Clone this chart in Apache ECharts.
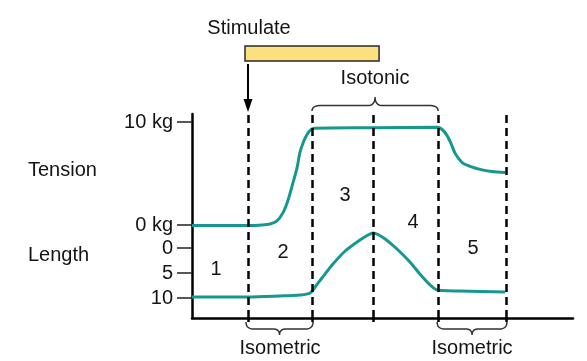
<!DOCTYPE html>
<html>
<head>
<meta charset="utf-8">
<script src="https://cdn.jsdelivr.net/npm/echarts@6/dist/echarts.min.js"></script>
<style>
html,body{margin:0;padding:0;background:#fff;}
#c{width:587px;height:361px;}
</style>
</head>
<body>
<div id="c"></div>
<script>
// ---- data (time in arbitrary units 0..100) ----
const phaseBounds = [14.7, 31.5, 47.5, 64.6, 82.4];
const phaseNames = ['1', '2', '3', '4', '5'];
const tensionTime = [0, 14.7, 18.4, 20.5, 22.3, 23.9, 25.2, 26.5, 27.6, 28.3, 29.4, 30.2, 31.0, 32.0, 47.5, 64.3, 65.6, 66.9, 68.0, 69.0, 70.1, 71.1, 73.0, 75.6, 78.7, 82.2];
const tensionKg   = [-0.05, -0.05, 0.0, 0.1, 0.4, 1.2, 2.4, 4.1, 5.6, 7.0, 8.2, 8.8, 9.2, 9.4, 9.45, 9.5, 9.3, 8.7, 7.9, 7.0, 6.4, 6.0, 5.7, 5.4, 5.2, 5.1];
const lengthTime  = [0, 14.7, 23.1, 28.3, 31.0, 32.3, 34.1, 37.0, 40.2, 44.1, 46.2, 47.5, 48.8, 50.7, 53.8, 57.2, 59.8, 62.5, 64.0, 65.6, 70.3, 82.2];
const lengthVal   = [9.8, 9.8, 9.6, 9.4, 9.0, 7.8, 6.0, 3.2, 0.6, -1.6, -2.6, -3.0, -2.7, -1.8, 0.2, 2.8, 5.2, 7.4, 8.3, 8.5, 8.6, 8.8];
const tensionTicks = [0, 10];
const lengthTicks = [0, 5, 10];
const stimulusStart = 14.7;
const stimulusEnd = 49.1;

const FONT = '"Liberation Sans", Arial, Helvetica, sans-serif';
const TEAL = '#16978f';
const INK = '#141414';

const chart = echarts.init(document.getElementById('c'), null, {renderer: 'canvas'});

const zip = (a, b) => a.map((v, i) => [v, b[i]]);

chart.setOption({
  animation: false,
  backgroundColor: '#ffffff',
  grid: {left: 192, right: 14, top: 114, bottom: 43},
  xAxis: {
    type: 'value', min: 0, max: 100,
    axisLine: {show: true, onZero: false, lineStyle: {color: '#000', width: 2.5}},
    axisTick: {show: true, customValues: phaseBounds, length: 4, lineStyle: {color: '#000', width: 2.5}},
    axisLabel: {show: false},
    splitLine: {show: false}
  },
  yAxis: [
    {
      type: 'value', min: -9.03, max: 10.78, position: 'left',
      axisLine: {show: true, onZero: false, lineStyle: {color: '#000', width: 2.5}},
      axisTick: {show: true, customValues: tensionTicks, length: 15, lineStyle: {color: '#222', width: 1.5}},
      axisLabel: {show: true, customValues: tensionTicks, formatter: '{value} kg', margin: 19,
                  color: INK, fontSize: 20, fontFamily: FONT},
      splitLine: {show: false}
    },
    {
      type: 'value', min: -26.8, max: 14, inverse: true, position: 'left',
      axisLine: {show: false, onZero: false},
      axisTick: {show: true, customValues: lengthTicks, length: 15, lineStyle: {color: '#222', width: 1.5}},
      axisLabel: {show: true, customValues: lengthTicks, margin: 19,
                  color: INK, fontSize: 20, fontFamily: FONT},
      splitLine: {show: false}
    }
  ],
  series: [
    {
      name: 'Tension', type: 'line', yAxisIndex: 0,
      data: zip(tensionTime, tensionKg),
      smooth: 0.3, showSymbol: false, silent: true,
      lineStyle: {color: TEAL, width: 3},
      markLine: {
        silent: true, symbol: ['none', 'none'],
        label: {show: false},
        lineStyle: {color: '#000', width: 2.5, type: [8, 5]},
        data: phaseBounds.map(v => ({xAxis: v}))
      },
      z: 3
    },
    {
      name: 'Length', type: 'line', yAxisIndex: 1,
      data: zip(lengthTime, lengthVal),
      smooth: 0.3, showSymbol: false, silent: true,
      lineStyle: {color: TEAL, width: 3},
      z: 3
    }
  ]
});

// ---- annotations positioned through the axis scales ----
const px = t => chart.convertToPixel({xAxisIndex: 0}, t);

function quad(p0, p1, p2, n) {
  const pts = [];
  for (let i = 0; i <= n; i++) {
    const s = i / n, u = 1 - s;
    pts.push([u * u * p0[0] + 2 * u * s * p1[0] + s * s * p2[0], u * u * p0[1] + 2 * u * s * p1[1] + s * s * p2[1]]);
  }
  return pts;
}
function bracePoints(x1, x2, yEnd, yb, yTip, r) {
  const xm = (x1 + x2) / 2;
  let pts = [];
  pts = pts.concat(quad([x1, yEnd], [x1, yb], [x1 + r, yb], 10));
  pts = pts.concat(quad([xm - r * 0.8, yb], [xm, yb], [xm, yTip], 10));
  pts = pts.concat(quad([xm, yTip], [xm, yb], [xm + r * 0.8, yb], 10));
  pts = pts.concat(quad([x2 - r, yb], [x2, yb], [x2, yEnd], 10));
  return pts;
}
const brace = pts => ({type: 'polyline', silent: true, shape: {points: pts},
  style: {fill: null, stroke: '#333', lineWidth: 1.5}});

const b = phaseBounds.map(px);
const textStyle = (s, x, y, align) => ({
  type: 'text', x: x, y: y, silent: true,
  style: {text: s, fill: INK, font: `20px ${FONT}`, align: align || 'center', verticalAlign: 'middle'}
});

const phaseLabelPos = [[216, 269], [283, 252], [345, 195], [413, 222], [473, 248]];

const g = [
  textStyle('Tension', 28, 170, 'left'),
  textStyle('Length', 28, 255, 'left'),
  textStyle('Stimulate', 249, 28),
  {type: 'rect', silent: true, shape: {x: px(stimulusStart) - 3, y: 46, width: px(stimulusEnd) - px(stimulusStart) + 3, height: 15},
   style: {fill: '#fbe07f', stroke: '#2a2a2a', lineWidth: 1.5}},
  {type: 'line', silent: true, shape: {x1: px(stimulusStart), y1: 64, x2: px(stimulusStart), y2: 102},
   style: {stroke: '#000', lineWidth: 2}},
  {type: 'polygon', silent: true, shape: {points: [[px(stimulusStart) - 4.5, 99], [px(stimulusStart) + 4.5, 99], [px(stimulusStart), 112]]},
   style: {fill: '#000'}},
  textStyle('Isotonic', (b[1] + b[3]) / 2, 78),
  brace(bracePoints(b[1], b[3], 111, 105.5, 97, 9)),
  brace(bracePoints(b[0] - 2, b[1] + 1, 322, 329, 335, 8)),
  brace(bracePoints(b[3] - 1, b[4] + 1, 322, 329, 335, 8)),
  textStyle('Isometric', (b[0] + b[1]) / 2, 348),
  textStyle('Isometric', (b[3] + b[4]) / 2, 348)
];
phaseNames.forEach((n, i) => g.push(textStyle(n, phaseLabelPos[i][0], phaseLabelPos[i][1])));

chart.setOption({graphic: g});
</script>
</body>
</html>
